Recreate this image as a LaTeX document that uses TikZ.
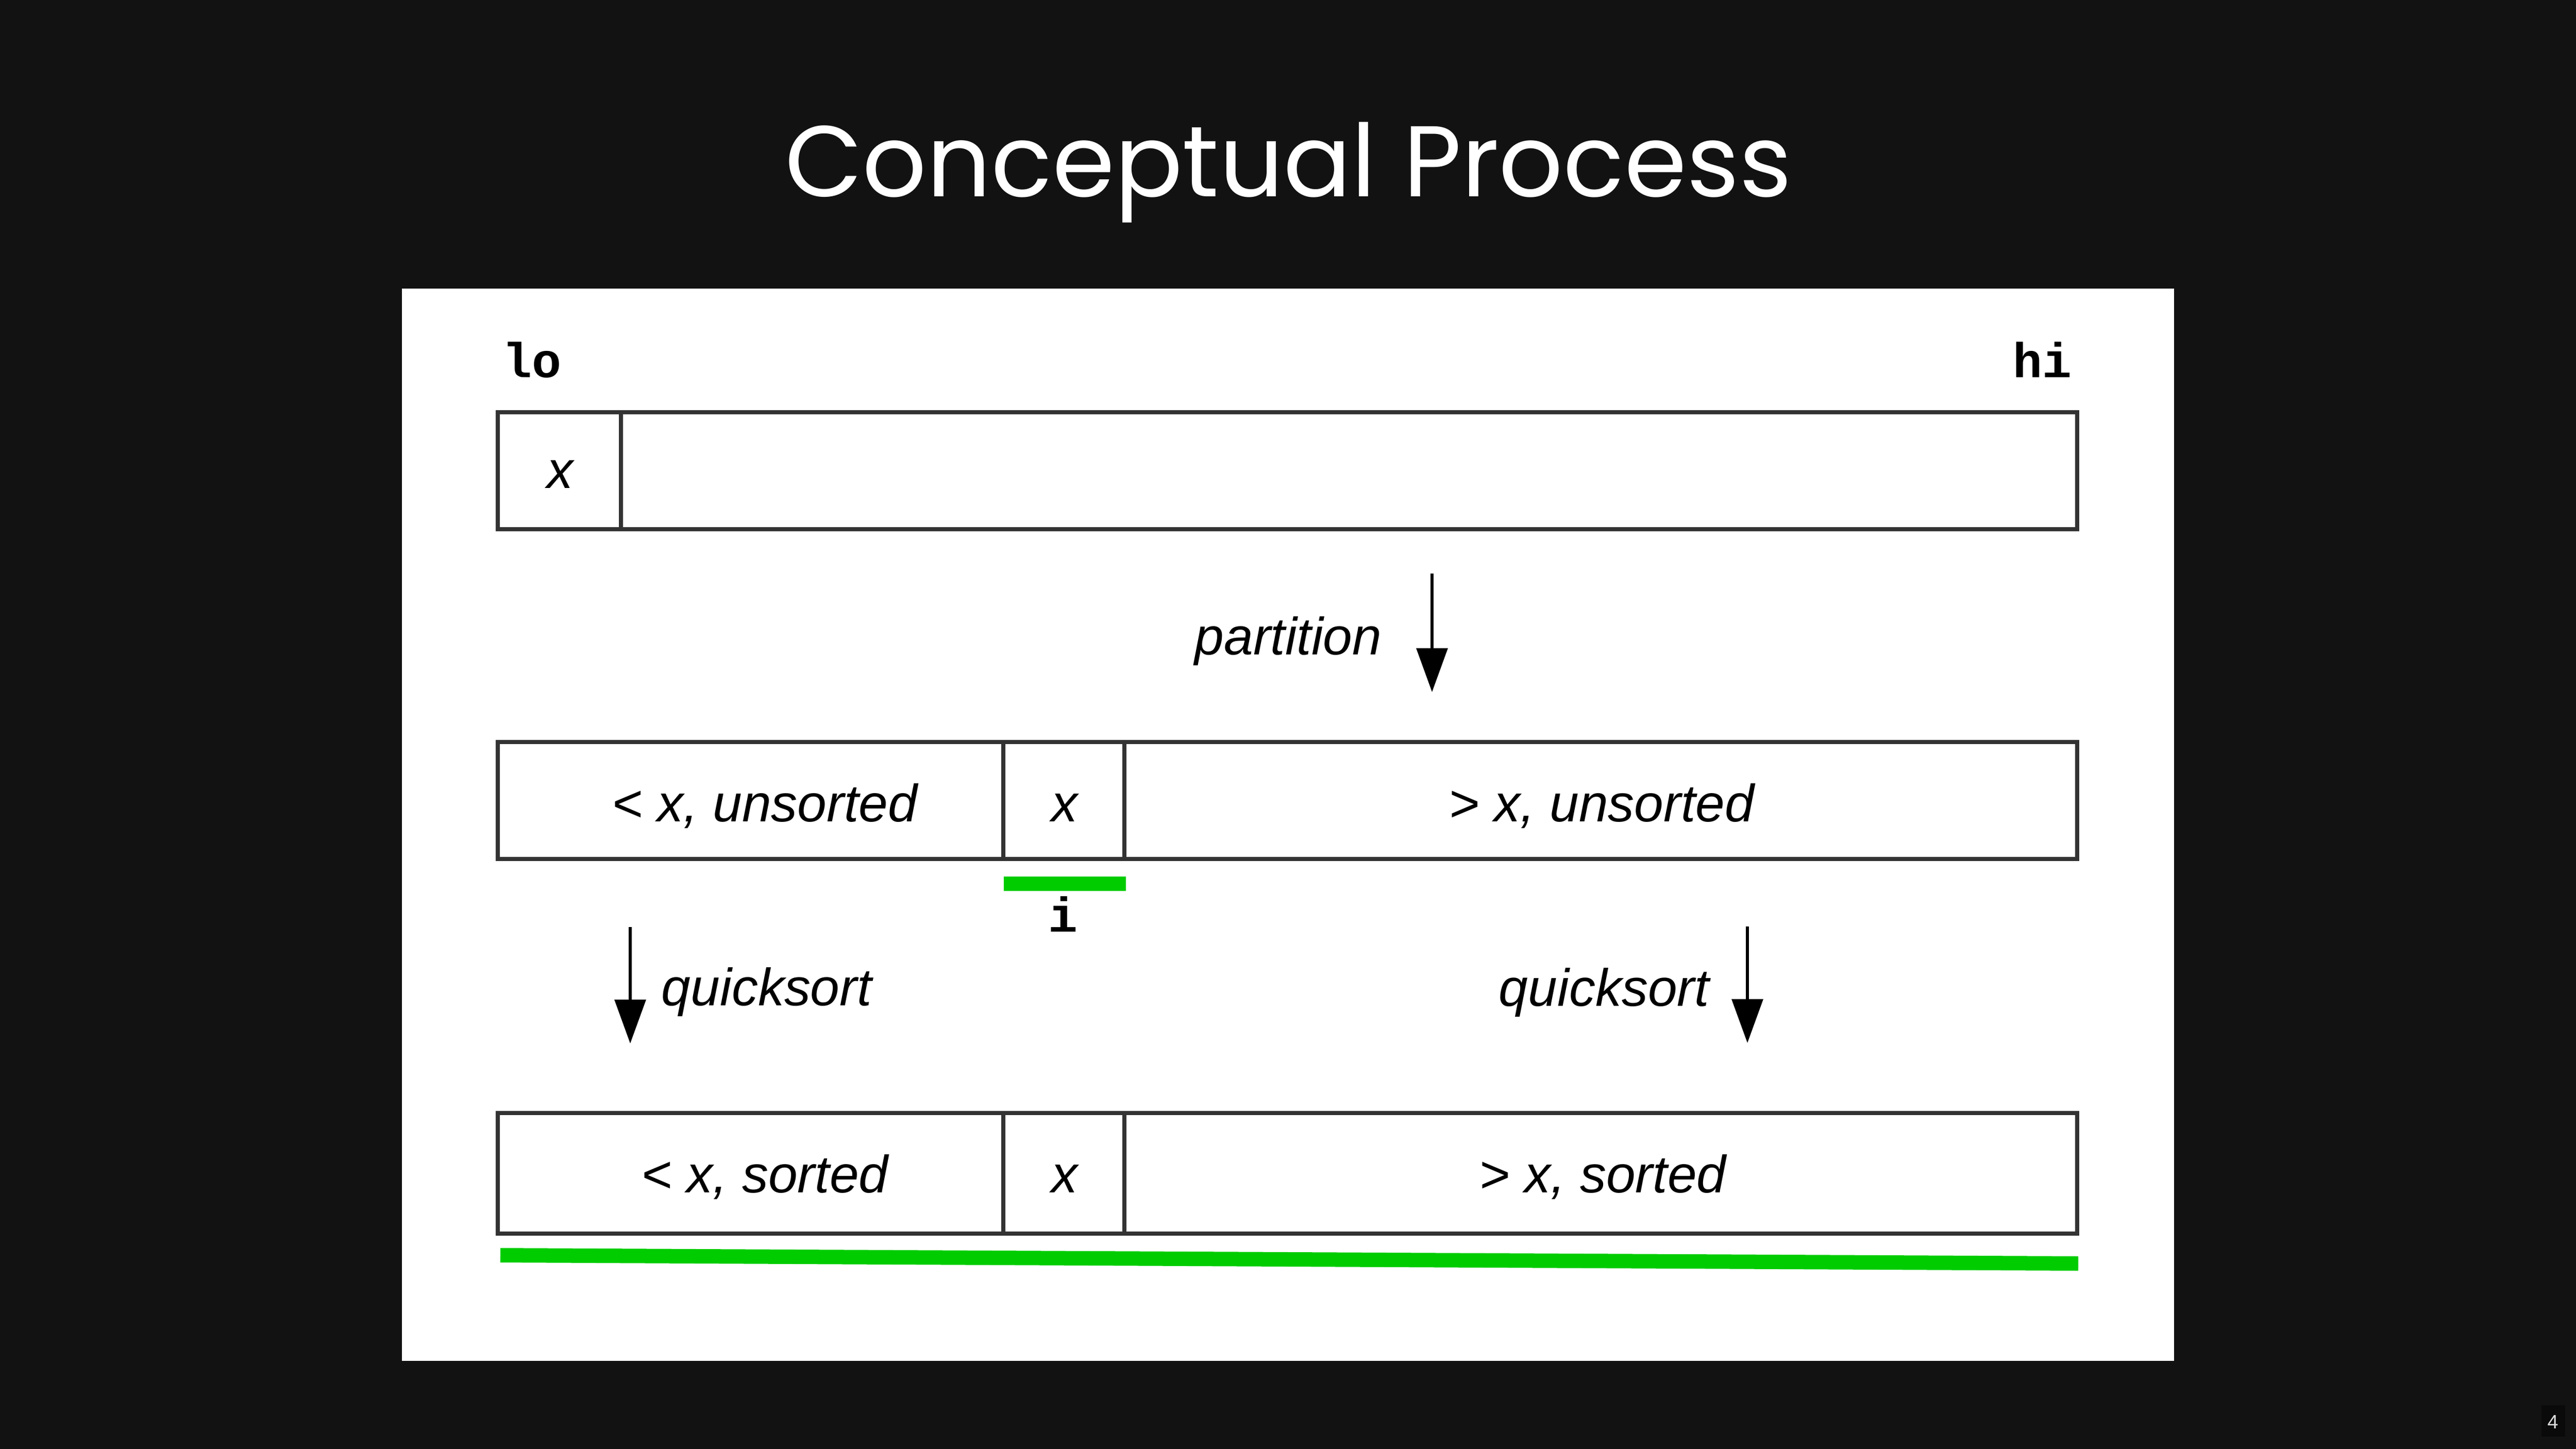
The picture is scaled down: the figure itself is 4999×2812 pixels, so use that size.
\documentclass[tikz,border=0pt]{standalone}
\usepackage{fontspec}
\setmainfont{Liberation Sans}
\newfontfamily\titlefont{Poppins}
\newfontfamily\codefont{Liberation Mono}
\usetikzlibrary{arrows.meta}
\definecolor{bgdark}{HTML}{121212}
\definecolor{boxdark}{HTML}{0A0A0A}
\definecolor{edge}{HTML}{333333}
\definecolor{hl}{HTML}{00CC00}
\definecolor{pnum}{HTML}{DDDDDD}
\tikzset{
  cell/.style={draw=edge, line width=0.08cm, inner sep=0pt, outer sep=0pt, fill=white},
  lbl/.style={inner sep=0pt, anchor=base, font=\fontsize{29pt}{34pt}\selectfont\itshape},
  code/.style={inner sep=0pt, anchor=base, font=\fontsize{27pt}{32pt}\selectfont\codefont\bfseries},
  arr/.style={line width=0.06cm, -{Triangle[length=0.85cm, width=0.6cm]}},
}
\begin{document}
\begin{tikzpicture}[x=0.01cm,y=-0.01cm]
\fill[bgdark] (0,0) rectangle (4999,2812);
\useasboundingbox (0,0) rectangle (4999,2812);
% title
\node[inner sep=0pt, anchor=base, text=white, font=\fontsize{55.5pt}{62pt}\selectfont\titlefont] (title) at (2500,381) {Conceptual Process};
% white panel
\node[fill=white, inner sep=0pt, outer sep=0pt, minimum width=34.37cm, minimum height=20.79cm] (panel) at (2499.5,1600.5) {};
% lo / hi
\node[code] (lo) at (1032,732) {lo};
\node[code] (hi) at (3963,732) {hi};
% row 1
\node[cell, minimum width=28.25cm, minimum height=2.27cm] (b1) at (2617.5,913.5) {};
\node[cell, minimum width=2.39cm, minimum height=2.27cm] (a1) at (1085.5,913.5) {};
\node[lbl] (x1) at (1087,947) {x};
% partition arrow
\coordinate (p1) at (2779,1113);
\coordinate (p2) at (2779,1343);
\draw[arr] (p1) -- (p2);
\node[lbl] (plabel) at (2500,1270) {partition};
% row 2
\node[cell, minimum width=9.81cm, minimum height=2.27cm] (l2) at (1456.5,1553.5) {};
\node[cell, minimum width=18.48cm, minimum height=2.27cm] (r2) at (3106,1553.5) {};
\node[cell, minimum width=2.35cm, minimum height=2.27cm] (m2) at (2064.5,1553.5) {};
\node[lbl] (tl2) at (1484,1594) {< x, unsorted};
\node[lbl] (tm2) at (2066,1594) {x};
\node[lbl] (tr2) at (3108,1594) {> x, unsorted};
% i marker
\node[fill=hl, inner sep=0pt, minimum width=2.37cm, minimum height=0.28cm] (ibar) at (2066.5,1715) {};
\node[code] (ilabel) at (2063,1808) {i};
% quicksort arrows
\coordinate (q1) at (1223,1799);
\coordinate (q2) at (1223,2025);
\draw[arr] (q1) -- (q2);
\node[lbl] (ql) at (1488,1951) {quicksort};
\coordinate (q3) at (3391,1798);
\coordinate (q4) at (3391,2024);
\draw[arr] (q3) -- (q4);
\node[lbl] (qr) at (3113,1952) {quicksort};
% row 3
\node[cell, minimum width=9.81cm, minimum height=2.34cm] (l3) at (1456.5,2277) {};
\node[cell, minimum width=18.48cm, minimum height=2.34cm] (r3) at (3106,2277) {};
\node[cell, minimum width=2.35cm, minimum height=2.34cm] (m3) at (2064.5,2277) {};
\node[lbl] (tl3) at (1484,2314) {< x, sorted};
\node[lbl] (tm3) at (2066,2314) {x};
\node[lbl] (tr3) at (3110,2314) {> x, sorted};
% sorted underline
\coordinate (g1) at (971,2436);
\coordinate (g2) at (4033,2452);
\draw[hl, line width=0.28cm] (g1) -- (g2);
% page number
\node[fill=boxdark, inner sep=0pt, minimum width=0.46cm, minimum height=0.61cm] (pbox) at (4955,2757.5) {};
\node[inner sep=0pt, anchor=base, text=pnum, font=\fontsize{10.7pt}{12pt}\selectfont] (pn) at (4954,2772) {4};
\end{tikzpicture}
\end{document}
